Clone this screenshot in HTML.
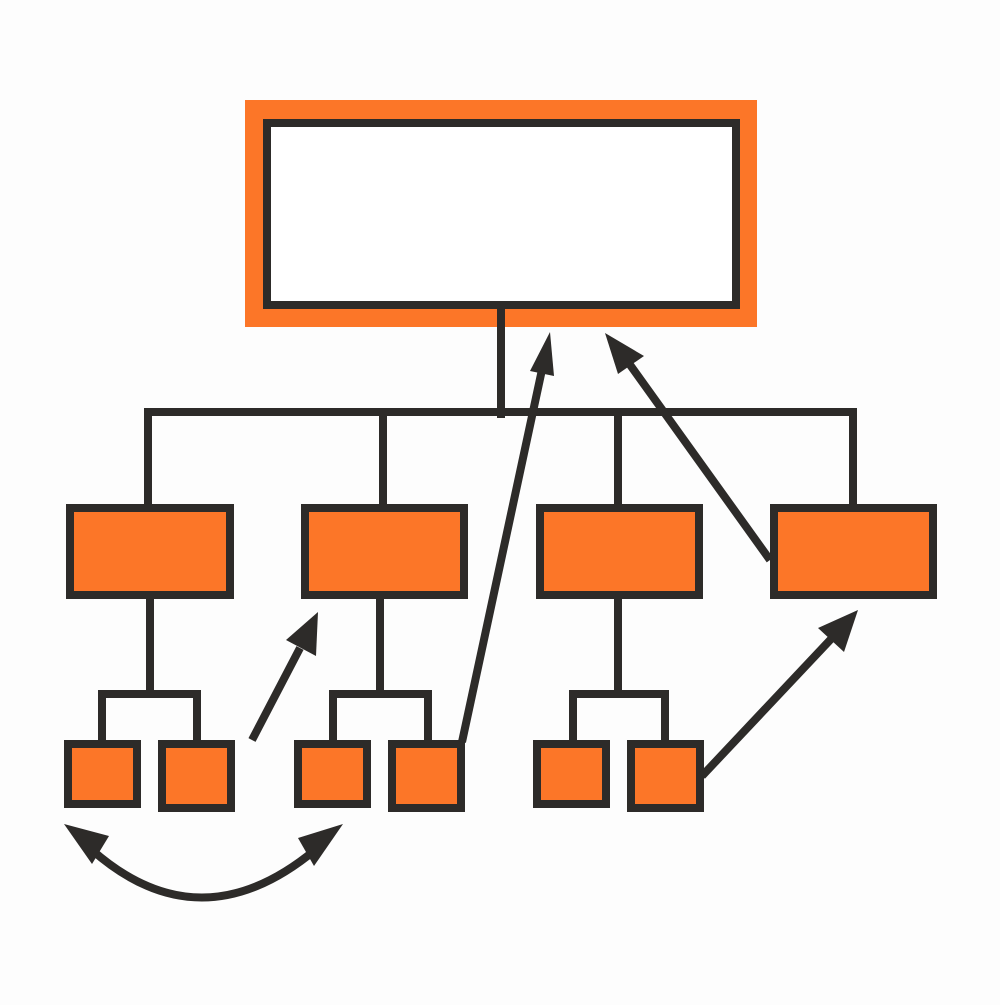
<!DOCTYPE html>
<html><head><style>html,body{margin:0;padding:0;background:#fdfdfd}</style></head><body>
<svg width="1000" height="1000" viewBox="0 0 1000 1000" xmlns="http://www.w3.org/2000/svg">
<rect width="1000" height="1000" fill="#fdfdfd"/>
<g stroke="#2d2b29" stroke-width="8" fill="none">
<rect x="245" y="100" width="512" height="227" fill="#fc7628" stroke="none"/>
<rect x="267" y="123" width="469" height="182" fill="#fff"/>
<line x1="501" y1="305" x2="501" y2="418"/>
<polyline points="148,510 148,412 853,412 853,510"/>
<line x1="383" y1="412" x2="383" y2="510"/>
<line x1="618" y1="412" x2="618" y2="510"/>
<g fill="#fc7628">
<rect x="70" y="508" width="160" height="87"/>
<rect x="305" y="508" width="159" height="87"/>
<rect x="540" y="508" width="159" height="87"/>
<rect x="774" y="508" width="159" height="87"/>
</g>
<line x1="150" y1="595" x2="150" y2="693"/>
<line x1="380" y1="595" x2="380" y2="693"/>
<line x1="618" y1="595" x2="618" y2="693"/>
<polyline points="102,744 102,694 197,694 197,744"/>
<polyline points="333,744 333,694 428,694 428,744"/>
<polyline points="573,744 573,694 665,694 665,744"/>
<g fill="#fc7628">
<rect x="68" y="744" width="69" height="60"/>
<rect x="162" y="744" width="69" height="64"/>
<rect x="298" y="744" width="69" height="60"/>
<rect x="392" y="744" width="69" height="64"/>
<rect x="537" y="744" width="69" height="60"/>
<rect x="631" y="744" width="69" height="64"/>
</g>
<line x1="252" y1="740" x2="300" y2="648"/>
<line x1="462" y1="742" x2="543" y2="365"/>
<line x1="770" y1="560" x2="628" y2="362"/>
<line x1="702" y1="776" x2="832" y2="638"/>
<path d="M92,850 Q200,945 315,850"/>
</g>
<g fill="#2d2b29">
<polygon points="318,612 316,656 286,640"/>
<polygon points="550,332 554,376 530,371"/>
<polygon points="605,333 644,356 618,374"/>
<polygon points="858,610 844,652 818,628"/>
<polygon points="64,824 109,836 92,864"/>
<polygon points="343,824 314,866 298,838"/>
</g>
</svg>
</body></html>
